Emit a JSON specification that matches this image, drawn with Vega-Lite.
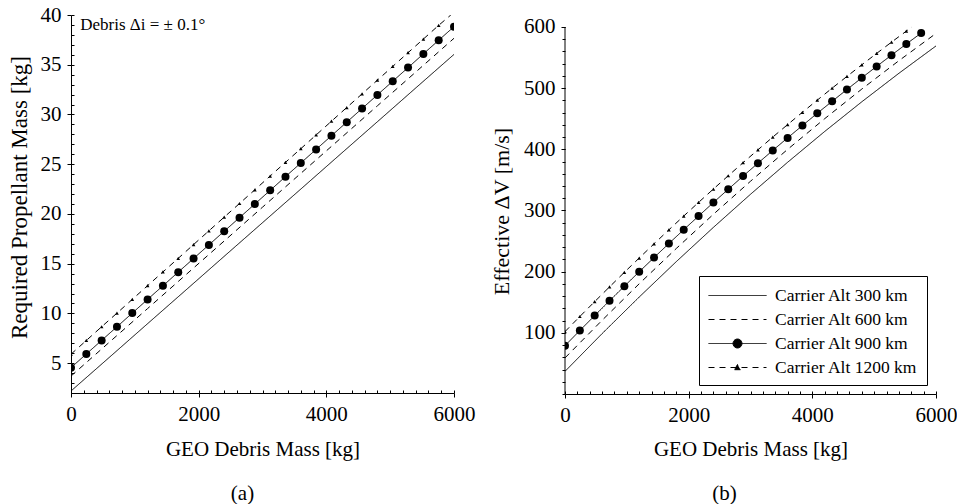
{
  "$schema": "https://vega.github.io/schema/vega-lite/v6.json",
  "background": "white",
  "padding": {"left": 8, "top": 4, "right": 0, "bottom": 0},
  "spacing": 15,
  "datasets": {
    "left": [
      {"alt":"300","m":0,"v":2.2},{"alt":"300","m":600,"v":5.58},{"alt":"300","m":1200,"v":8.97},{"alt":"300","m":1800,"v":12.35},{"alt":"300","m":2400,"v":15.74},{"alt":"300","m":3000,"v":19.12},{"alt":"300","m":3600,"v":22.5},{"alt":"300","m":4200,"v":25.89},{"alt":"300","m":4800,"v":29.27},{"alt":"300","m":5400,"v":32.66},{"alt":"300","m":6000,"v":36.04},
      {"alt":"600","m":0,"v":3.7},{"alt":"600","m":600,"v":7.1},{"alt":"600","m":1200,"v":10.49},{"alt":"600","m":1800,"v":13.89},{"alt":"600","m":2400,"v":17.28},{"alt":"600","m":3000,"v":20.68},{"alt":"600","m":3600,"v":24.08},{"alt":"600","m":4200,"v":27.47},{"alt":"600","m":4800,"v":30.87},{"alt":"600","m":5400,"v":34.26},{"alt":"600","m":6000,"v":37.66},
      {"alt":"900","m":0,"v":4.55},{"alt":"900","m":240,"v":5.92},{"alt":"900","m":480,"v":7.29},{"alt":"900","m":720,"v":8.66},{"alt":"900","m":960,"v":10.03},{"alt":"900","m":1200,"v":11.41},{"alt":"900","m":1440,"v":12.78},{"alt":"900","m":1680,"v":14.15},{"alt":"900","m":1920,"v":15.52},{"alt":"900","m":2160,"v":16.89},{"alt":"900","m":2400,"v":18.26},{"alt":"900","m":2640,"v":19.63},{"alt":"900","m":2880,"v":21.0},{"alt":"900","m":3120,"v":22.37},{"alt":"900","m":3360,"v":23.75},{"alt":"900","m":3600,"v":25.12},{"alt":"900","m":3840,"v":26.49},{"alt":"900","m":4080,"v":27.86},{"alt":"900","m":4320,"v":29.23},{"alt":"900","m":4560,"v":30.6},{"alt":"900","m":4800,"v":31.97},{"alt":"900","m":5040,"v":33.34},{"alt":"900","m":5280,"v":34.71},{"alt":"900","m":5520,"v":36.09},{"alt":"900","m":5760,"v":37.46},{"alt":"900","m":6000,"v":38.83},
      {"alt":"1200","m":0,"v":5.9},{"alt":"1200","m":240,"v":7.28},{"alt":"1200","m":480,"v":8.66},{"alt":"1200","m":720,"v":10.03},{"alt":"1200","m":960,"v":11.41},{"alt":"1200","m":1200,"v":12.79},{"alt":"1200","m":1440,"v":14.17},{"alt":"1200","m":1680,"v":15.54},{"alt":"1200","m":1920,"v":16.92},{"alt":"1200","m":2160,"v":18.3},{"alt":"1200","m":2400,"v":19.68},{"alt":"1200","m":2640,"v":21.05},{"alt":"1200","m":2880,"v":22.43},{"alt":"1200","m":3120,"v":23.81},{"alt":"1200","m":3360,"v":25.19},{"alt":"1200","m":3600,"v":26.56},{"alt":"1200","m":3840,"v":27.94},{"alt":"1200","m":4080,"v":29.32},{"alt":"1200","m":4320,"v":30.7},{"alt":"1200","m":4560,"v":32.07},{"alt":"1200","m":4800,"v":33.45},{"alt":"1200","m":5040,"v":34.83},{"alt":"1200","m":5280,"v":36.21},{"alt":"1200","m":5520,"v":37.58},{"alt":"1200","m":5760,"v":38.96},{"alt":"1200","m":5950,"v":40.0}
    ],
    "right": [
      {"alt":"300","m":0,"v":37.0},{"alt":"300","m":600,"v":98.7},{"alt":"300","m":1200,"v":158.5},{"alt":"300","m":1800,"v":216.4},{"alt":"300","m":2400,"v":272.4},{"alt":"300","m":3000,"v":326.5},{"alt":"300","m":3600,"v":378.8},{"alt":"300","m":4200,"v":429.2},{"alt":"300","m":4800,"v":477.7},{"alt":"300","m":5400,"v":524.3},{"alt":"300","m":6000,"v":569.0},
      {"alt":"600","m":0,"v":59.0},{"alt":"600","m":600,"v":120.5},{"alt":"600","m":1200,"v":180.2},{"alt":"600","m":1800,"v":237.9},{"alt":"600","m":2400,"v":293.8},{"alt":"600","m":3000,"v":347.8},{"alt":"600","m":3600,"v":399.9},{"alt":"600","m":4200,"v":450.1},{"alt":"600","m":4800,"v":498.5},{"alt":"600","m":5400,"v":544.9},{"alt":"600","m":6000,"v":589.5},
      {"alt":"900","m":0,"v":79.0},{"alt":"900","m":240,"v":103.8},{"alt":"900","m":480,"v":128.2},{"alt":"900","m":720,"v":152.4},{"alt":"900","m":960,"v":176.2},{"alt":"900","m":1200,"v":199.8},{"alt":"900","m":1440,"v":223.0},{"alt":"900","m":1680,"v":246.0},{"alt":"900","m":1920,"v":268.6},{"alt":"900","m":2160,"v":290.9},{"alt":"900","m":2400,"v":313.0},{"alt":"900","m":2640,"v":334.7},{"alt":"900","m":2880,"v":356.2},{"alt":"900","m":3120,"v":377.3},{"alt":"900","m":3360,"v":398.2},{"alt":"900","m":3600,"v":418.7},{"alt":"900","m":3840,"v":438.9},{"alt":"900","m":4080,"v":458.9},{"alt":"900","m":4320,"v":478.5},{"alt":"900","m":4560,"v":497.8},{"alt":"900","m":4800,"v":516.9},{"alt":"900","m":5040,"v":535.6},{"alt":"900","m":5280,"v":554.0},{"alt":"900","m":5520,"v":572.2},{"alt":"900","m":5760,"v":590.0},
      {"alt":"1200","m":0,"v":102.0},{"alt":"1200","m":240,"v":126.7},{"alt":"1200","m":480,"v":151.0},{"alt":"1200","m":720,"v":175.1},{"alt":"1200","m":960,"v":198.9},{"alt":"1200","m":1200,"v":222.3},{"alt":"1200","m":1440,"v":245.5},{"alt":"1200","m":1680,"v":268.4},{"alt":"1200","m":1920,"v":290.9},{"alt":"1200","m":2160,"v":313.2},{"alt":"1200","m":2400,"v":335.1},{"alt":"1200","m":2640,"v":356.8},{"alt":"1200","m":2880,"v":378.2},{"alt":"1200","m":3120,"v":399.2},{"alt":"1200","m":3360,"v":420.0},{"alt":"1200","m":3600,"v":440.4},{"alt":"1200","m":3840,"v":460.6},{"alt":"1200","m":4080,"v":480.4},{"alt":"1200","m":4320,"v":500.0},{"alt":"1200","m":4560,"v":519.2},{"alt":"1200","m":4800,"v":538.2},{"alt":"1200","m":5040,"v":556.8},{"alt":"1200","m":5280,"v":575.2},{"alt":"1200","m":5520,"v":593.2},{"alt":"1200","m":5610,"v":600.0}
    ]
  },
  "hconcat": [
    {
      "width": 383,
      "height": 378,
      "title": {"text": "(a)", "orient": "bottom", "anchor": "middle", "dx": -20, "offset": 24, "fontSize": 21, "font": "Liberation Serif", "fontWeight": "normal", "color": "black"},
      "data": {"name": "left"},
      "resolve": {"axis": {"x": "independent", "y": "independent"}},
      "layer": [
        {
          "mark": {"type": "line", "clip": true, "strokeWidth": 1, "color": "black"},
          "encoding": {
            "x": {"field": "m", "type": "quantitative", "scale": {"domain": [0, 6000], "nice": false}, "axis": {"values": [0, 2000, 4000, 6000], "format": "d", "title": "GEO Debris Mass [kg]", "titlePadding": 14, "labelFlush": false}},
            "y": {"field": "v", "type": "quantitative", "scale": {"domain": [2, 40], "nice": false, "zero": false}, "axis": {"values": [5, 10, 15, 20, 25, 30, 35, 40], "title": "Required Propellant Mass [kg]", "titleFontSize": 23, "titleY": 182, "titlePadding": 9}},
            "strokeDash": {"field": "alt", "type": "nominal", "scale": {"domain": ["300", "600", "900", "1200"], "range": [[1, 0], [6, 5], [1, 0], [6, 5]]}, "legend": null}
          }
        },
        {
          "transform": [{"filter": "datum.alt == '900'"}],
          "mark": {"type": "point", "shape": "circle", "filled": true, "size": 64, "color": "black", "opacity": 1, "clip": true},
          "encoding": {
            "x": {"field": "m", "type": "quantitative", "scale": {"domain": [0, 6000], "nice": false}, "axis": null},
            "y": {"field": "v", "type": "quantitative", "scale": {"domain": [2, 40], "nice": false, "zero": false}, "axis": null}
          }
        },
        {
          "transform": [{"filter": "datum.alt == '1200' && datum.v < 40"}],
          "mark": {"type": "point", "shape": "triangle-up", "filled": true, "size": 14, "color": "black", "opacity": 1, "clip": true},
          "encoding": {
            "x": {"field": "m", "type": "quantitative", "scale": {"domain": [0, 6000], "nice": false}, "axis": null},
            "y": {"field": "v", "type": "quantitative", "scale": {"domain": [2, 40], "nice": false, "zero": false}, "axis": null}
          }
        },
        {
          "data": {"values": [{"t": "Debris Δi = ± 0.1°"}]},
          "mark": {"type": "text", "align": "left", "baseline": "middle", "font": "Liberation Serif", "fontSize": 17, "color": "black"},
          "encoding": {
            "text": {"field": "t"},
            "x": {"datum": 145, "type": "quantitative", "scale": {"domain": [0, 6000], "nice": false}, "axis": null},
            "y": {"datum": 39, "type": "quantitative", "scale": {"domain": [2, 40], "nice": false, "zero": false}, "axis": null}
          }
        },
        {
          "mark": {"type": "point", "opacity": 0},
          "encoding": {
            "x": {"field": "m", "type": "quantitative", "scale": {"domain": [0, 6000], "nice": false}, "axis": {"orient": "bottom", "values": [0,200,400,600,800,1000,1200,1400,1600,1800,2000,2200,2400,2600,2800,3000,3200,3400,3600,3800,4000,4200,4400,4600,4800,5000,5200,5400,5600,5800,6000], "labels": false, "domain": false, "tickSize": -3, "title": null}},
            "y": {"field": "v", "type": "quantitative", "scale": {"domain": [2, 40], "nice": false, "zero": false}, "axis": {"orient": "left", "values": [2,3,4,5,6,7,8,9,10,11,12,13,14,15,16,17,18,19,20,21,22,23,24,25,26,27,28,29,30,31,32,33,34,35,36,37,38,39,40], "labels": false, "domain": false, "tickSize": -3, "title": null}}
          }
        }
      ]
    },
    {
      "width": 371,
      "height": 379,
      "title": {"text": "(b)", "orient": "bottom", "anchor": "middle", "dx": -26, "offset": 24, "fontSize": 21, "font": "Liberation Serif", "fontWeight": "normal", "color": "black"},
      "data": {"name": "right"},
      "resolve": {"axis": {"x": "independent", "y": "independent"}},
      "layer": [
        {
          "mark": {"type": "line", "clip": true, "strokeWidth": 1, "color": "black"},
          "encoding": {
            "x": {"field": "m", "type": "quantitative", "scale": {"domain": [0, 6000], "nice": false}, "axis": {"values": [0, 2000, 4000, 6000], "format": "d", "title": "GEO Debris Mass [kg]", "titlePadding": 13, "labelFlush": false}},
            "y": {"field": "v", "type": "quantitative", "scale": {"domain": [0, 619.6], "nice": false}, "axis": {"values": [100, 200, 300, 400, 500, 600], "domain": false, "title": "Effective ΔV [m/s]", "titleFontSize": 22, "titleY": 196, "titlePadding": 10}},
            "strokeDash": {
              "field": "alt", "type": "nominal",
              "scale": {"domain": ["300", "600", "900", "1200"], "range": [[1, 0], [6, 5], [1, 0], [6, 5]]},
              "legend": {
                "title": null,
                "orient": "bottom-right",
                "offset": 9,
                "padding": 9,
                "strokeColor": "black",
                "fillColor": "white",
                "symbolSize": 400,
                "symbolStrokeWidth": 1,
                "symbolStrokeColor": "black",
                "symbolFillColor": "black",
                "labelFont": "Liberation Serif",
                "labelFontSize": 17.5,
                "labelColor": "black",
                "labelOffset": 46,
                "rowPadding": 5,
                "labelExpr": "'Carrier Alt ' + (datum.label == '1200' ? '' : ' ') + datum.label + ' km'",
                "encode": {
                  "symbols": {
                    "update": {
                      "shape": {"signal": "datum.value == '900' ? 'M-1,0H4.8M1.45,0A0.45,0.45,0,1,1,2.35,0A0.45,0.45,0,1,1,1.45,0Z' : datum.value == '1200' ? 'M-1,0H4.8M1.6,0.22L2.2,0.22L1.9,-0.3Z' : 'M-1,0H4.8'"},
                      "fill": {"value": "black"},
                      "stroke": {"value": "black"}
                    }
                  }
                }
              }
            }
          }
        },
        {
          "transform": [{"filter": "datum.alt == '900'"}],
          "mark": {"type": "point", "shape": "circle", "filled": true, "size": 64, "color": "black", "opacity": 1, "clip": true},
          "encoding": {
            "x": {"field": "m", "type": "quantitative", "scale": {"domain": [0, 6000], "nice": false}, "axis": null},
            "y": {"field": "v", "type": "quantitative", "scale": {"domain": [0, 619.6], "nice": false}, "axis": null}
          }
        },
        {
          "transform": [{"filter": "datum.alt == '1200' && datum.v < 600"}],
          "mark": {"type": "point", "shape": "triangle-up", "filled": true, "size": 14, "color": "black", "opacity": 1, "clip": true},
          "encoding": {
            "x": {"field": "m", "type": "quantitative", "scale": {"domain": [0, 6000], "nice": false}, "axis": null},
            "y": {"field": "v", "type": "quantitative", "scale": {"domain": [0, 619.6], "nice": false}, "axis": null}
          }
        },
        {
          "data": {"values": [{"from": 0, "to": 600}]},
          "mark": {"type": "rule", "color": "black", "strokeWidth": 1},
          "encoding": {
            "x": {"datum": 0, "type": "quantitative", "scale": {"domain": [0, 6000], "nice": false}, "axis": null},
            "y": {"field": "from", "type": "quantitative", "scale": {"domain": [0, 619.6], "nice": false}, "axis": null},
            "y2": {"field": "to"}
          }
        },
        {
          "mark": {"type": "point", "opacity": 0},
          "encoding": {
            "x": {"field": "m", "type": "quantitative", "scale": {"domain": [0, 6000], "nice": false}, "axis": {"orient": "bottom", "values": [0,200,400,600,800,1000,1200,1400,1600,1800,2000,2200,2400,2600,2800,3000,3200,3400,3600,3800,4000,4200,4400,4600,4800,5000,5200,5400,5600,5800,6000], "labels": false, "domain": false, "tickSize": -3, "title": null}},
            "y": {"field": "v", "type": "quantitative", "scale": {"domain": [0, 619.6], "nice": false}, "axis": {"orient": "left", "values": [0,20,40,60,80,100,120,140,160,180,200,220,240,260,280,300,320,340,360,380,400,420,440,460,480,500,520,540,560,580,600], "labels": false, "domain": false, "tickSize": 3, "title": null}}
          }
        }
      ]
    }
  ],
  "resolve": {"scale": {"strokeDash": "independent"}, "legend": {"strokeDash": "independent"}},
  "config": {
    "font": "Liberation Serif",
    "view": {"stroke": null},
    "axis": {
      "labelFont": "Liberation Serif",
      "labelFontSize": 21,
      "labelColor": "black",
      "titleFont": "Liberation Serif",
      "titleFontSize": 21,
      "titleFontWeight": "normal",
      "titleColor": "black",
      "domainColor": "black",
      "domainWidth": 1,
      "tickColor": "black",
      "tickSize": 4,
      "labelPadding": 6,
      "grid": false
    }
  }
}
